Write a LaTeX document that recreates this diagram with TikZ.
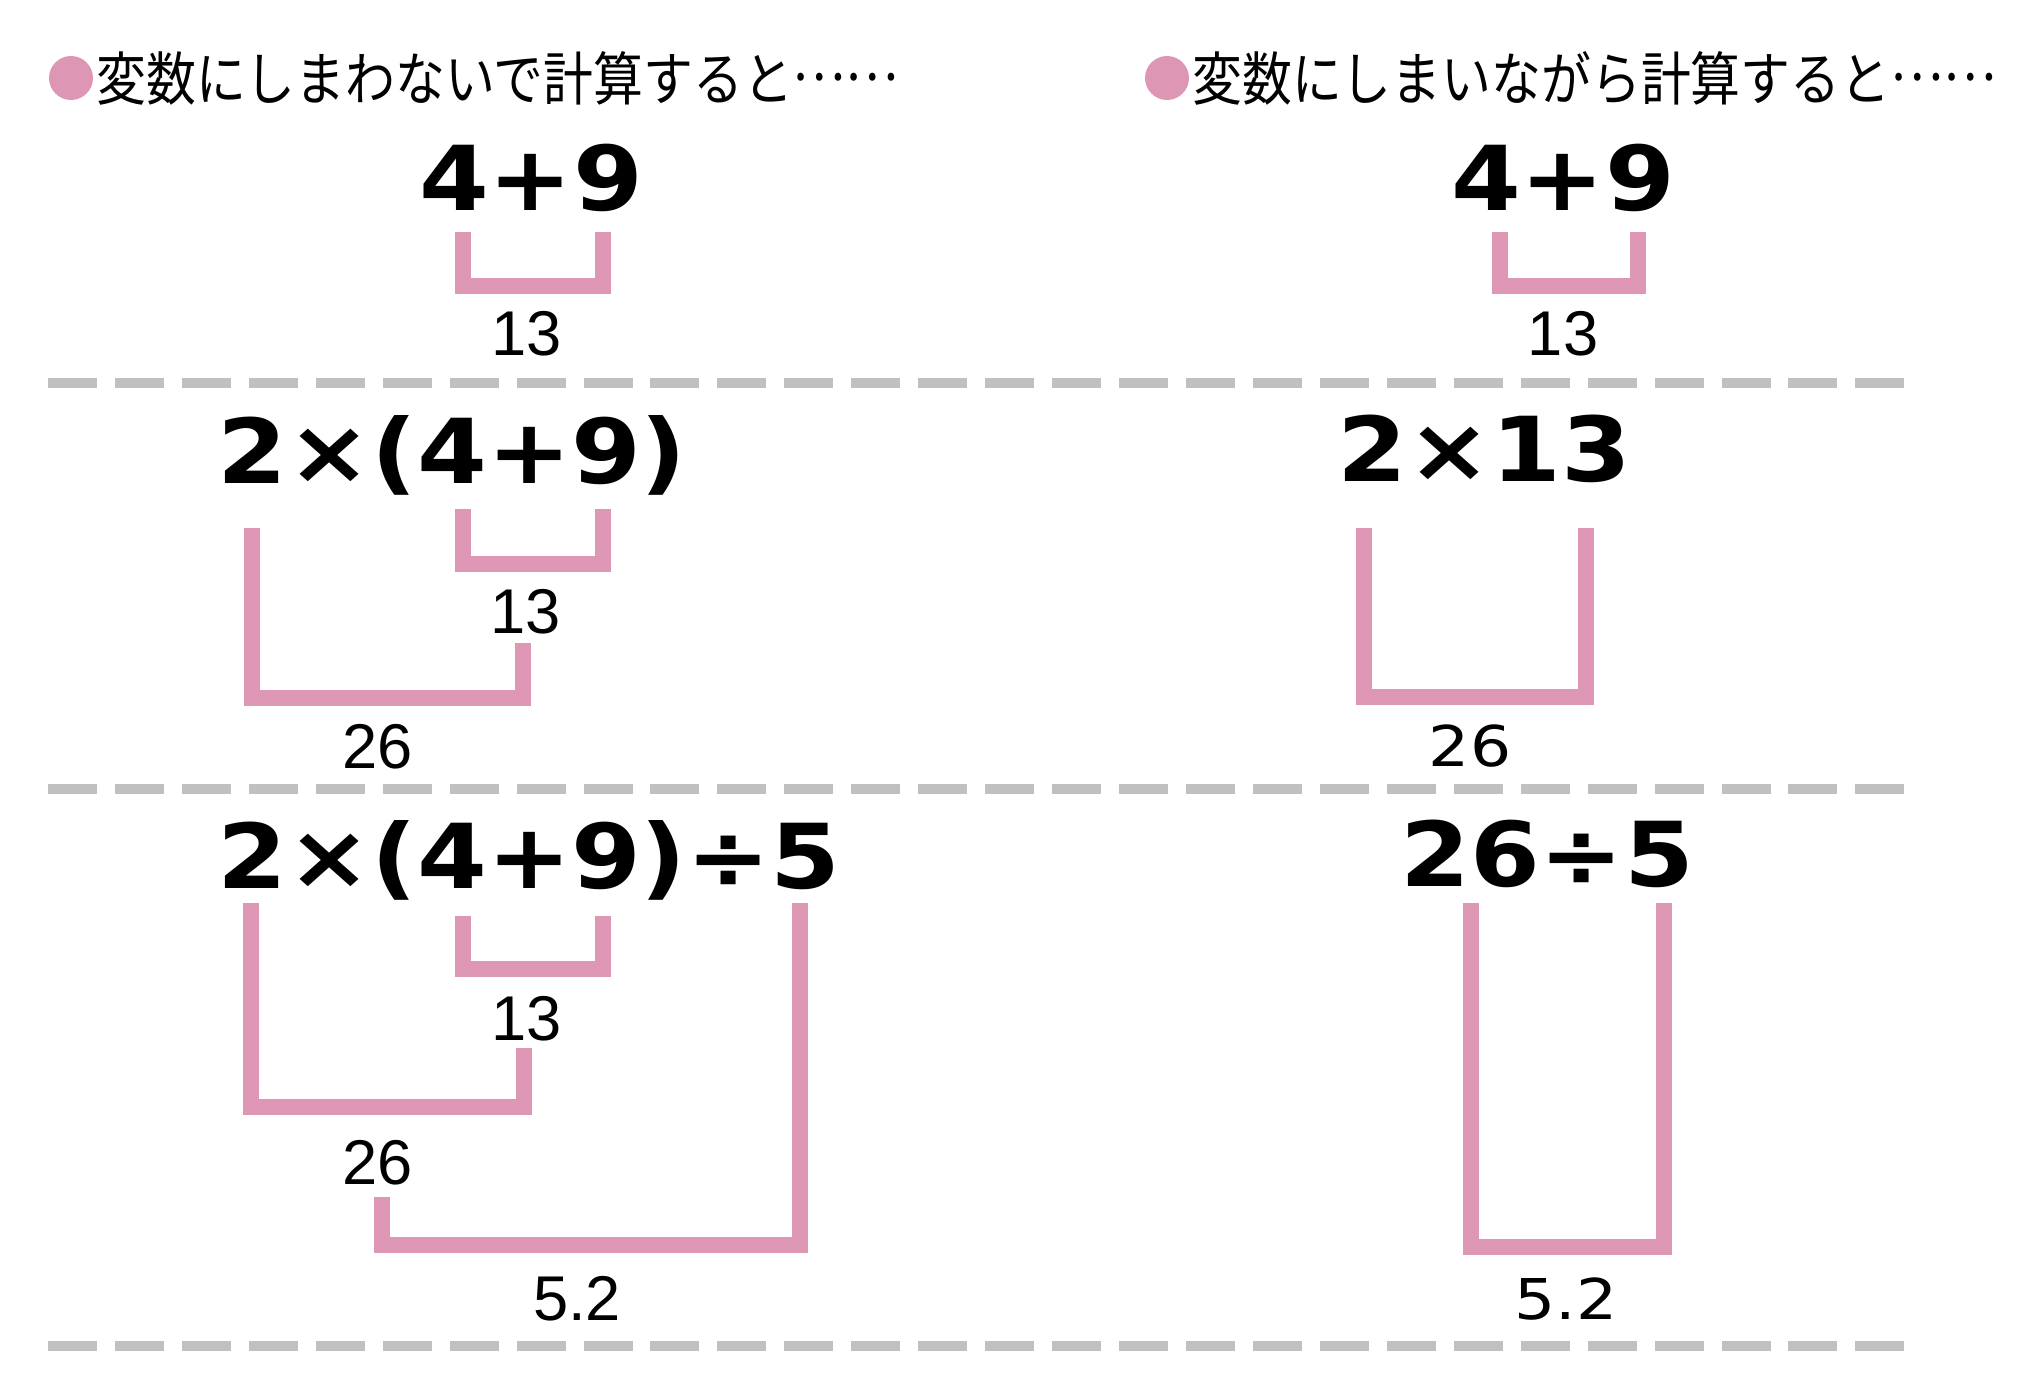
\documentclass[tikz,border=0pt]{standalone}
\usepackage{fontspec}
\newfontfamily\jpfont{Noto Sans CJK JP}[FakeStretch=0.86]
\newfontfamily\exprfont{DejaVu Sans}[BoldFont={DejaVu Sans Bold}, BoldFeatures={FakeStretch=1.12}]
\newfontfamily\numfont{Liberation Sans}
\newfontfamily\widefont{DejaVu Sans}[FakeStretch=1.15]
\definecolor{brkpink}{RGB}{221,151,181}
\definecolor{dashgray}{RGB}{192,192,192}
\newcommand{\dotsjp}{\raisebox{0.33em}{……}}
\tikzset{
  ttl/.style={anchor=west, inner sep=0pt, font=\jpfont\fontsize{33pt}{33pt}\selectfont},
  expr/.style={inner sep=0pt, font=\exprfont\bfseries\fontsize{51pt}{51pt}\selectfont},
  lbl/.style={inner sep=0pt, font=\numfont\fontsize{36pt}{36pt}\selectfont},
  lblw/.style={inner sep=0pt, font=\widefont\fontsize{32pt}{32pt}\selectfont},
  brk/.style={draw=brkpink, line width=9.4pt},
  sep/.style={draw=dashgray, line width=5.7pt, dash pattern=on 27.9pt off 10.2pt}
}
\begin{document}
\begin{tikzpicture}[x=0.02cm, y=-0.02cm]
    \useasboundingbox (0,0) rectangle (2029,1383);

    % headings
    \fill[brkpink] (71,78) circle (0.44cm);
    \node[ttl] (ttlL) at (96,78) {変数にしまわないで計算すると\dotsjp};
    \fill[brkpink] (1167,78) circle (0.44cm);
    \node[ttl] (ttlR) at (1192,78) {変数にしまいながら計算すると\dotsjp};

    % separators
    \draw[sep] (48,383) -- (1906,383);
    \draw[sep] (48,789) -- (1906,789);
    \draw[sep] (48,1346) -- (1906,1346);

    % left: without variables
    \node[expr] (exL1) at (531,178) {4+9};
    \draw[brk] (463,232) |- (603,286) -- (603,232);
    \node[lbl] (sumL1) at (527,334) {13};

    \node[expr, anchor=base west] (exL2) at (217,483) {2×(4+9)};
    \draw[brk] (463,509) |- (603,564) -- (603,509);
    \node[lbl] (sumL2) at (526,612) {13};
    \draw[brk] (252,528) |- (523,698) -- (523,643);
    \node[lbl] (prodL2) at (378,747) {26};

    \node[expr, anchor=base west] (exL3) at (217,888) {2×(4+9)÷5};
    \draw[brk] (463,916) |- (603,969) -- (603,916);
    \node[lbl] (sumL3) at (527,1019) {13};
    \draw[brk] (251,903) |- (524,1107) -- (524,1048);
    \node[lbl] (prodL3) at (378,1163) {26};
    \draw[brk] (382,1197) |- (800,1245) -- (800,903);
    \node[lbl] (quotL3) at (577,1299) {5.2};

    % right: with variables
    \node[expr] (exR1) at (1563,178) {4+9};
    \draw[brk] (1500,232) |- (1638,286) -- (1638,232);
    \node[lbl] (sumR1) at (1563,334) {13};

    \node[expr] (exR2) at (1484,449) {2×13};
    \draw[brk] (1364,528) |- (1586,697) -- (1586,528);
    \node[lblw] (prodR2) at (1470,746) {26};

    \node[expr] (exR3) at (1547,854) {26÷5};
    \draw[brk] (1471,903) |- (1664,1247) -- (1664,903);
    \node[lblw] (quotR3) at (1566,1299) {5.2};
\end{tikzpicture}
\end{document}
